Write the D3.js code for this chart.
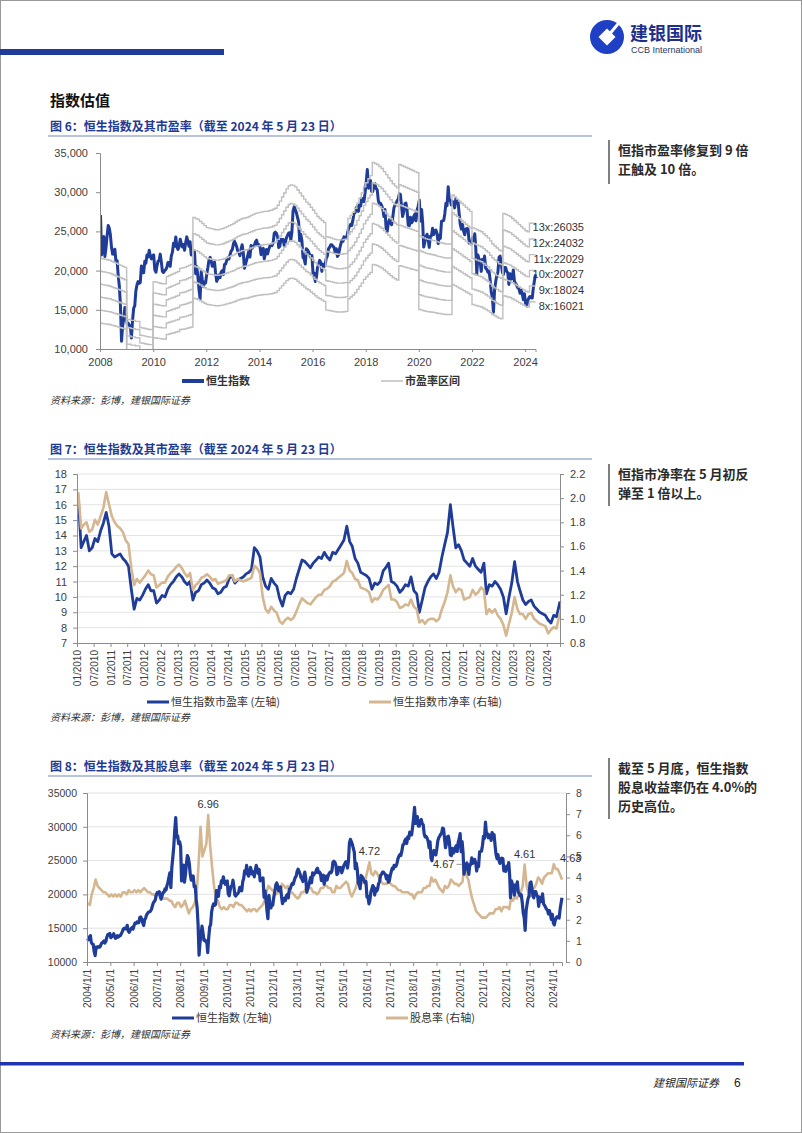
<!DOCTYPE html>
<html>
<head>
<meta charset="utf-8">
<script src="https://d3js.org/d3.v7.min.js"></script>
<style>
  body { margin: 0; background: #fff; }
</style>
</head>
<body>
<svg width="802" height="1133"></svg>
<script>
// ---- data ----
// Hang Seng Index, two readings a month (~8th and ~23rd), from Jan 2004
var hsiStart = [2004, 0];
var hsiValues = [
  13500,13290, 13700,13908, 12900,12682, 12600,11500, 10950,12198, 12100,12286, 12200,12239, 12600,12850, 12900,13120, 12800,13055, 13700,14060, 14100,14230,
  13600,13721, 13900,14195, 13800,13516, 13600,13908, 13700,13867, 13900,14201, 14500,14880, 15000,14903, 15000,15429, 14600,14386, 14700,14937, 15100,14876,
  15400,15753, 15700,15918, 15800,15805, 16600,16661, 16300,15857, 15400,16267, 16500,16971, 17200,17392, 17400,17543, 17800,18324, 18800,18960, 19200,19965,
  20300,20106, 20400,19651, 19300,19800, 20300,20319, 20800,20635, 21300,21773, 22500,23185, 21000,23984, 25500,27142, 29500,31352, 28500,28643, 27500,27813,
  27100,22000, 24000,24332, 21800,22849, 24500,25755, 25400,24533, 22900,22102, 22100,22731, 21100,21261, 19300,18016, 15500,11000, 13000,13888, 15300,14387,
  13200,13278, 13000,12812, 11400,13576, 15200,15521, 17400,18171, 18600,18379, 18500,20573, 20000,19724, 21200,20955, 22000,21753, 22600,21822, 21500,21873,
  22000,20122, 19800,20609, 21200,21239, 22100,21108, 19900,19765, 20000,20129, 20400,21030, 21000,20536, 21900,22358, 23500,23096, 24300,23008, 22700,23035,
  24000,23447, 23000,23338, 22600,23528, 24300,23721, 23100,23684, 22000,22398, 22300,22440, 19600,20535, 19200,17592, 16400,19864, 18800,17989, 18500,18434,
  19600,20390, 21400,21680, 21300,20556, 20600,21094, 19700,18630, 19000,19441, 19100,19796, 20000,19482, 20800,20840, 21300,21642, 21500,22030, 22500,22657,
  23400,23730, 23400,23020, 22500,22300, 21900,22737, 23300,22392, 20300,20803, 21300,21883, 22500,21731, 23200,22860, 23100,23206, 23700,23881, 23200,23306,
  23100,22035, 22500,22837, 21500,22151, 22700,22134, 22700,23082, 23300,23191, 23500,24757, 24900,24742, 24300,22933, 23100,23998, 23800,23987, 23200,23605,
  24200,24507, 24800,24823, 23900,24901, 27600,28133, 27800,27424, 26800,26250, 23800,24636, 23800,21671, 21500,20846, 22800,22640, 22400,21996, 21700,21914,
  19600,19683, 18600,19112, 20300,20777, 21300,21067, 19900,20815, 20500,20794, 21600,21891, 22800,22977, 23300,23297, 23100,22935, 22300,22790, 21800,22001,
  22800,23361, 23900,23741, 24300,24112, 24200,24615, 25300,25661, 25900,25765, 26400,27324, 27400,27970, 28200,27554, 28500,28246, 29200,29177, 28800,29919,
  31300,32887, 30500,30845, 31500,30093, 30100,30808, 31100,30469, 30300,28955, 28500,28583, 28300,27889, 26900,27789, 25400,24980, 26100,26507, 26100,25846,
  26800,27942, 28400,28633, 28900,29051, 29800,29699, 28300,26901, 27500,28543, 28600,27778, 25800,25725, 26800,26092, 26300,26907, 27200,26346, 27700,28190,
  29000,26313, 27800,26130, 23000,23603, 24300,24644, 24000,22961, 24400,24427, 25400,24595, 25100,25177, 24700,23459, 24500,24107, 26300,26341, 26400,27231,
  28600,28284, 30700,28980, 29000,28378, 28800,28725, 28000,29152, 28600,28828, 27300,25961, 25300,25879, 25000,24576, 25300,25377, 25300,23475, 23500,23398,
  24200,23802, 24700,22713, 19500,21997, 21500,21089, 19900,21415, 21100,21860, 20300,20157, 19800,19955, 18800,17223, 16600,14687, 17600,18597, 19400,19781,
  21700,21842, 20800,19786, 19500,20400, 20400,19895, 19700,18234, 19600,18916, 19000,20079, 18600,18382, 18100,17810, 17700,17112, 17600,17043, 16300,17047,
  15800,15485, 16200,16511, 16700,16541, 16500,17763, 18700,19500
];

// trailing EPS behind the P/E bands, monthly from Jan 2008
var epsStart = [2008, 0];
var epsValues = [
  1660,1655,1650,1645,1640,1630,1620,1610,1600,1590,1580,1570,
  1060,1060,1050,1050,1040,1040,980,975,970,965,960,960,
  1430,1425,1420,1415,1410,1410,1480,1490,1500,1510,1520,1530,
  1560,1565,1570,1580,1590,1600,2060,2050,2040,2020,2000,1980,
  1960,1955,1950,1945,1940,1940,1945,1950,1960,1970,1980,1990,
  2000,2015,2030,2040,2050,2055,2060,2070,2080,2090,2100,2105,
  2110,2115,2120,2120,2125,2130,2140,2150,2180,2220,2260,2300,
  2340,2370,2380,2375,2360,2330,2300,2270,2240,2210,2190,2160,
  2130,2100,2070,2050,2030,2010,1870,1865,1860,1850,1845,1840,
  1840,1840,1845,1850,2050,2080,2110,2150,2200,2250,2300,2360,
  2400,2440,2470,2600,2590,2580,2560,2540,2510,2480,2450,2420,
  2390,2370,2350,2580,2570,2560,2550,2540,2530,2520,2510,2500,
  1880,1870,1860,1850,1845,1840,1835,1830,1820,1815,1810,1805,
  1800,1800,1800,2280,2260,2240,2220,2200,2180,2160,2140,2120,
  1960,1950,1940,1930,1920,1900,1880,1860,1830,1800,1780,1760,
  1740,1730,2100,2090,2080,2070,2050,2030,2010,1990,1970,1950,
  1930,1920,2003,2003,2003
];
var bandMultiples = [13, 12, 11, 10, 9, 8];
var bandEndValues = [26035, 24032, 22029, 20027, 18024, 16021];

// P/E and P/B, monthly from Jan 2010
var valStart = [2010, 0];
var peValues = [
  16.5,13.2,13.6,14.0,13.0,13.2,13.8,13.6,14.3,14.8,15.5,14.6,
  12.8,12.6,12.7,12.8,12.5,12.3,12.0,10.5,9.2,9.9,9.8,10.1,
  10.5,10.8,10.4,10.4,9.6,9.8,10.1,10.0,10.5,10.8,11.0,11.3,
  11.5,11.3,11.0,10.8,11.0,9.8,10.3,10.4,10.8,10.9,11.1,10.9,
  10.6,10.5,10.2,10.3,10.6,10.7,11.2,11.4,10.9,11.1,11.2,11.3,
  11.5,11.6,11.8,13.2,13.0,12.6,11.3,10.7,10.5,11.2,10.9,10.7,
  9.9,9.4,10.1,10.3,10.2,10.5,11.2,11.8,12.4,12.3,12.1,11.9,
  12.2,12.4,12.6,12.5,12.9,12.6,12.4,12.9,12.8,13.1,13.4,13.7,
  14.6,13.6,13.3,12.5,12.2,11.6,11.5,11.4,11.2,10.5,10.9,10.8,
  11.0,11.7,11.9,12.2,11.0,10.9,10.7,10.3,10.5,10.8,10.7,11.3,
  10.4,10.2,9.0,9.8,10.6,11.0,11.3,11.5,11.2,11.6,12.6,13.4,
  14.2,16.0,14.6,13.2,13.4,13.0,12.4,12.2,12.0,12.5,12.0,11.8,
  11.6,12.2,10.2,10.8,10.7,11.0,10.8,10.5,10.0,8.9,10.0,10.9,
  12.3,11.0,10.4,9.8,9.5,9.7,9.8,9.4,9.2,9.0,8.9,8.8,
  8.5,8.3,8.8,8.7,9.7
];
var pbValues = [
  2.05,1.75,1.78,1.80,1.72,1.74,1.82,1.78,1.85,1.92,2.05,1.95,
  1.85,1.80,1.77,1.75,1.72,1.65,1.62,1.42,1.28,1.33,1.30,1.33,
  1.36,1.40,1.37,1.36,1.26,1.28,1.30,1.30,1.35,1.38,1.40,1.43,
  1.45,1.42,1.38,1.35,1.38,1.24,1.28,1.30,1.34,1.35,1.37,1.35,
  1.32,1.33,1.29,1.30,1.31,1.32,1.36,1.36,1.31,1.33,1.32,1.31,
  1.32,1.33,1.34,1.44,1.42,1.38,1.18,1.08,1.05,1.10,1.07,1.05,
  0.98,0.96,0.99,1.01,0.99,1.01,1.06,1.12,1.17,1.15,1.13,1.12,
  1.15,1.18,1.20,1.20,1.24,1.25,1.27,1.31,1.32,1.34,1.36,1.38,
  1.48,1.40,1.38,1.33,1.32,1.26,1.25,1.24,1.22,1.14,1.17,1.16,
  1.19,1.24,1.26,1.28,1.16,1.16,1.14,1.09,1.10,1.12,1.11,1.16,
  1.10,1.08,0.97,0.99,0.96,0.99,1.00,1.00,0.98,1.00,1.08,1.14,
  1.22,1.36,1.27,1.22,1.25,1.24,1.16,1.17,1.18,1.24,1.20,1.22,
  1.26,1.24,1.04,1.08,1.05,1.08,1.03,1.00,0.95,0.86,0.96,1.05,
  1.18,1.08,1.04,1.04,1.00,1.04,1.05,1.00,0.98,0.96,0.95,0.94,
  0.88,0.91,0.93,0.92,1.05
];

// dividend yield (%), monthly from Jan 2004
var dyStart = [2004, 0];
var dyValues = [
  2.8,2.7,3.2,3.5,3.9,3.6,3.5,3.4,3.3,3.3,3.2,3.1,
  3.2,3.1,3.2,3.1,3.2,3.1,3.3,3.3,3.2,3.4,3.3,3.3,
  3.4,3.3,3.4,3.3,3.4,3.5,3.4,3.3,3.3,3.2,3.2,3.1,
  3.2,3.2,3.1,3.0,3.0,3.0,2.9,2.9,2.7,2.6,2.8,2.8,
  2.6,2.7,2.9,2.6,2.3,2.5,2.6,2.8,3.2,4.6,6.4,5.0,
  5.3,5.6,6.96,5.5,4.5,3.6,3.0,2.9,2.6,2.5,2.6,2.5,
  2.5,2.7,2.7,2.6,2.8,2.8,2.7,2.7,2.6,2.5,2.4,2.5,
  2.4,2.5,2.5,2.4,2.5,2.6,2.7,2.9,3.3,3.6,3.5,3.4,
  3.3,3.2,3.3,3.3,3.7,3.6,3.5,3.6,3.4,3.3,3.2,3.1,
  3.0,3.1,3.3,3.3,3.4,3.7,3.5,3.5,3.3,3.3,3.2,3.3,
  3.5,3.5,3.6,3.6,3.5,3.5,3.3,3.3,3.6,3.5,3.5,3.6,
  3.7,3.8,3.7,3.3,3.1,3.3,3.5,3.8,3.9,3.7,3.8,3.9,
  4.3,4.72,4.2,4.1,4.3,4.2,4.0,3.8,3.7,3.7,3.7,3.8,
  3.7,3.6,3.6,3.5,3.4,3.4,3.3,3.3,3.3,3.3,3.2,3.2,
  3.0,3.2,3.3,3.3,3.3,3.5,3.5,3.6,3.6,4.0,3.8,3.9,
  3.7,3.5,3.4,3.3,3.6,3.5,3.6,3.9,3.8,3.7,3.7,3.6,
  3.7,3.8,4.67,4.1,3.9,3.4,3.0,2.7,2.4,2.3,2.2,2.1,
  2.1,2.1,2.2,2.3,2.3,2.3,2.5,2.5,2.6,2.4,2.6,2.6,
  2.6,2.5,3.0,2.9,3.1,3.0,3.2,3.3,3.6,4.61,3.6,3.3,
  3.1,3.5,3.5,3.7,4.0,3.9,3.7,4.0,4.1,4.2,4.2,4.2,
  4.63,4.4,4.4,4.2,3.9
];
var dyNotes = [["6.96", 2009, 2], ["4.72", 2016, 1], ["4.67", 2020, 2], ["4.61", 2022, 9], ["4.63", 2024, 0]];

// ---- helpers ----
var blue = "#1f3c98", tan = "#d4b690", bandGrey = "#bfbfbf";
var numFont = "'Liberation Sans', Arial, sans-serif";
var cjk = "'Noto Sans CJK SC', sans-serif";
var svg = d3.select("svg");

function monthly(start, values) {
  return values.map(function (v, i) {
    var day = (i === values.length - 1 && start[0] + Math.floor((start[1] + i) / 12) === 2024) ? 23 : 15;
    return { date: new Date(start[0], start[1] + i, day), v: v };
  });
}
var hsi = hsiValues.map(function (v, i) {
  return { date: new Date(hsiStart[0], hsiStart[1] + Math.floor(i / 2), i % 2 ? 23 : 8), v: v };
});

function styleAxis(g, size) {
  g.select(".domain").attr("stroke", "#8c8c8c");
  g.selectAll(".tick line").attr("stroke", "#8c8c8c");
  g.selectAll(".tick text").attr("fill", "#404040").style("font-family", numFont).style("font-size", size + "px");
}

function legendItem(x, y, color, label, width, weight) {
  svg.append("line").attr("x1", x).attr("x2", x + 22).attr("y1", y).attr("y2", y)
    .attr("stroke", color).attr("stroke-width", width);
  svg.append("text").attr("x", x + 24).attr("y", y + 4).text(label)
    .style("font-family", cjk).style("font-size", "11px").style("font-weight", weight || "normal").attr("fill", "#333");
}

function figTitle(y, label) {
  svg.append("text").attr("x", 50).attr("y", y).text(label)
    .style("font-family", cjk).style("font-weight", "bold").style("font-size", "12px").attr("fill", "#1f3a93");
  svg.append("line").attr("x1", 48).attr("x2", 592).attr("y1", y + 5).attr("y2", y + 5)
    .attr("stroke", "#a3afd0").attr("stroke-width", 1.5);
}

function source(y) {
  svg.append("text").attr("x", 50).attr("y", y).text("资料来源：彭博，建银国际证券")
    .style("font-family", cjk).style("font-style", "italic").style("font-size", "10px").attr("fill", "#333");
}

function comment(top, bottom, lines) {
  svg.append("line").attr("x1", 609).attr("x2", 609).attr("y1", top).attr("y2", bottom)
    .attr("stroke", "#555").attr("stroke-width", 1.5);
  lines.forEach(function (t, i) {
    svg.append("text").attr("x", 618).attr("y", top + 15 + i * 19).text(t)
      .style("font-family", cjk).style("font-weight", "bold").style("font-size", "13px").attr("fill", "#2a2a2a");
  });
}

function clip(id, x, y, w, h) {
  svg.append("clipPath").attr("id", id).append("rect").attr("x", x).attr("y", y).attr("width", w).attr("height", h);
}

// ---- page frame, header, footer ----
svg.append("rect").attr("x", 0.5).attr("y", 0.5).attr("width", 801).attr("height", 1132)
  .attr("fill", "none").attr("stroke", "#999");
svg.append("rect").attr("x", 0).attr("y", 49).attr("width", 224).attr("height", 6).attr("fill", "#1f3c98");

var logo = svg.append("g").attr("transform", "translate(607,37)");
logo.append("circle").attr("r", 17).attr("fill", "#1f3fc4");
logo.append("rect").attr("x", -6).attr("y", -6).attr("width", 12).attr("height", 12)
  .attr("transform", "rotate(45)").attr("fill", "#fff");
logo.append("rect").attr("x", -1.5).attr("y", -19).attr("width", 3).attr("height", 14)
  .attr("transform", "rotate(40)").attr("fill", "#fff");
svg.append("text").attr("x", 630).attr("y", 40).text("建银国际")
  .style("font-family", cjk).style("font-weight", "bold").style("font-size", "18px").attr("fill", "#1c2f8c");
svg.append("text").attr("x", 631).attr("y", 53).text("CCB International")
  .style("font-family", numFont).style("font-size", "9px").attr("fill", "#2b3566");

svg.append("text").attr("x", 50).attr("y", 106).text("指数估值")
  .style("font-family", cjk).style("font-weight", "bold").style("font-size", "15px").attr("fill", "#111");

svg.append("rect").attr("x", 0).attr("y", 1062).attr("width", 744).attr("height", 3.5).attr("fill", "#1f35b0");
svg.append("text").attr("x", 719).attr("y", 1087).attr("text-anchor", "end").text("建银国际证券")
  .style("font-family", cjk).style("font-style", "italic").style("font-size", "11px").attr("fill", "#222");
svg.append("text").attr("x", 734).attr("y", 1087).text("6")
  .style("font-family", numFont).style("font-size", "12px").attr("fill", "#222");

// ---- figure 6: HSI with P/E bands ----
figTitle(131, "图 6：恒生指数及其市盈率（截至 2024 年 5 月 23 日）");
var x1 = d3.scaleTime().domain([new Date(2008, 0, 1), new Date(2024, 4, 23)]).range([100, 535.5]);
var y1 = d3.scaleLinear().domain([10000, 35000]).range([349, 153]);
clip("c1", 100, 150, 440, 199);

var eps = monthly(epsStart, epsValues);
eps.forEach(function (d, i) { d.date = new Date(epsStart[0], epsStart[1] + i, 1); });
eps.push({ date: new Date(2024, 4, 23), v: epsValues[epsValues.length - 1] });

var g1 = svg.append("g").attr("clip-path", "url(#c1)");
g1.append("path")
  .datum(hsi.filter(function (d) { return d.date >= new Date(2008, 0, 1); }))
  .attr("d", d3.line().x(function (d) { return x1(d.date); }).y(function (d) { return y1(d.v); }))
  .attr("fill", "none").attr("stroke", blue).attr("stroke-width", 3).attr("stroke-linejoin", "round");
bandMultiples.forEach(function (k) {
  g1.append("path").datum(eps)
    .attr("d", d3.line().curve(d3.curveStepAfter)
      .x(function (d) { return x1(d.date); }).y(function (d) { return y1(d.v * k); }))
    .attr("fill", "none").attr("stroke", bandGrey).attr("stroke-width", 1.4);
});

svg.append("g").attr("transform", "translate(100,0)")
  .call(d3.axisLeft(y1).tickValues(d3.range(10000, 35001, 5000)).tickFormat(d3.format(",")).tickSize(4).tickPadding(8))
  .call(styleAxis, 11);
svg.append("g").attr("transform", "translate(0,349)")
  .call(d3.axisBottom(x1).ticks(d3.timeYear.every(2)).tickFormat(d3.timeFormat("%Y")).tickSize(3).tickPadding(6))
  .call(styleAxis, 11);

bandMultiples.forEach(function (k, i) {
  svg.append("text").attr("x", 584).attr("y", y1(bandEndValues[i]) + 8).attr("text-anchor", "end")
    .text(k + "x:" + bandEndValues[i])
    .style("font-family", numFont).style("font-size", "11px").attr("fill", "#333");
});
legendItem(182, 381, blue, "恒生指数", 4, "bold");
legendItem(381, 381, bandGrey, "市盈率区间", 1.5, "bold");
source(404);
comment(140, 184, ["恒指市盈率修复到 9 倍", "正触及 10 倍。"]);

// ---- figure 7: P/E and P/B ----
figTitle(454, "图 7：恒生指数及其市盈率（截至 2024 年 5 月 23 日）");
var x2 = d3.scaleTime().domain([new Date(2010, 0, 1), new Date(2024, 4, 23)]).range([77, 560]);
var y2 = d3.scaleLinear().domain([7, 18]).range([643, 474]);
var y2r = d3.scaleLinear().domain([0.8, 2.2]).range([643, 474]);
d3.range(8, 19).forEach(function (v) {
  svg.append("line").attr("x1", 77).attr("x2", 560).attr("y1", y2(v)).attr("y2", y2(v))
    .attr("stroke", "#e3e3e3").attr("stroke-width", 1);
});
var pe = monthly(valStart, peValues), pb = monthly(valStart, pbValues);
svg.append("path").datum(pe)
  .attr("d", d3.line().x(function (d) { return x2(d.date); }).y(function (d) { return y2(d.v); }))
  .attr("fill", "none").attr("stroke", blue).attr("stroke-width", 2.8).attr("stroke-linejoin", "round");
svg.append("path").datum(pb)
  .attr("d", d3.line().x(function (d) { return x2(d.date); }).y(function (d) { return y2r(d.v); }))
  .attr("fill", "none").attr("stroke", tan).attr("stroke-width", 2.6).attr("stroke-linejoin", "round");

svg.append("g").attr("transform", "translate(77,0)")
  .call(d3.axisLeft(y2).tickValues(d3.range(7, 19)).tickSize(4).tickPadding(6))
  .call(styleAxis, 11);
svg.append("g").attr("transform", "translate(560,0)")
  .call(d3.axisRight(y2r).tickValues(d3.range(0.8, 2.21, 0.2)).tickFormat(d3.format(".1f")).tickSize(4).tickPadding(6))
  .call(styleAxis, 11);
var ax2 = svg.append("g").attr("transform", "translate(0,643)")
  .call(d3.axisBottom(x2).ticks(d3.timeMonth.every(6)).tickFormat(d3.timeFormat("%m/%Y")).tickSize(4))
  .call(styleAxis, 10);
ax2.selectAll(".tick text").attr("transform", "rotate(-90)").attr("text-anchor", "end")
  .attr("x", -7).attr("y", 0).attr("dy", "0.35em");
legendItem(147, 702, blue, "恒生指数市盈率 (左轴)", 3);
legendItem(369, 702, tan, "恒生指数市净率 (右轴)", 3);
source(721);
comment(464, 506, ["恒指市净率在 5 月初反", "弹至 1 倍以上。"]);

// ---- figure 8: HSI and dividend yield ----
figTitle(771, "图 8：恒生指数及其股息率（截至 2024 年 5 月 23 日）");
var x3 = d3.scaleTime().domain([new Date(2004, 0, 1), new Date(2024, 4, 23)]).range([87, 562]);
var y3 = d3.scaleLinear().domain([10000, 35000]).range([962, 793]);
var y3r = d3.scaleLinear().domain([0, 8]).range([962, 793]);
d3.range(15000, 35001, 5000).forEach(function (v) {
  svg.append("line").attr("x1", 87).attr("x2", 566).attr("y1", y3(v)).attr("y2", y3(v))
    .attr("stroke", "#e3e3e3").attr("stroke-width", 1);
});
var dy = monthly(dyStart, dyValues);
svg.append("path").datum(dy)
  .attr("d", d3.line().x(function (d) { return x3(d.date); }).y(function (d) { return y3r(d.v); }))
  .attr("fill", "none").attr("stroke", tan).attr("stroke-width", 2.6).attr("stroke-linejoin", "round");
svg.append("path").datum(hsi)
  .attr("d", d3.line().x(function (d) { return x3(d.date); }).y(function (d) { return y3(d.v); }))
  .attr("fill", "none").attr("stroke", blue).attr("stroke-width", 3.2).attr("stroke-linejoin", "round");

svg.append("g").attr("transform", "translate(87,0)")
  .call(d3.axisLeft(y3).tickValues(d3.range(10000, 35001, 5000)).tickFormat(d3.format("d")).tickSize(4).tickPadding(6))
  .call(styleAxis, 10.5);
svg.append("g").attr("transform", "translate(566,0)")
  .call(d3.axisRight(y3r).tickValues(d3.range(0, 9)).tickSize(4).tickPadding(6))
  .call(styleAxis, 10.5);
var ax3 = svg.append("g").attr("transform", "translate(0,962)")
  .call(d3.axisBottom(x3).ticks(d3.timeYear.every(1)).tickFormat(d3.timeFormat("%Y/%-m/%-d")).tickSize(4))
  .call(styleAxis, 10);
ax3.selectAll(".tick text").attr("transform", "rotate(-90)").attr("text-anchor", "end")
  .attr("x", -7).attr("y", 0).attr("dy", "0.35em");

dyNotes.forEach(function (n) {
  var px = x3(new Date(n[1], n[2], 15)), py = y3r(+n[0]);
  var t = svg.append("text").text(n[0])
    .style("font-family", numFont).style("font-size", "11px").attr("fill", "#333");
  if (n[0] === "4.67") {
    t.attr("x", px - 10).attr("y", py + 5).attr("text-anchor", "end");
    svg.append("line").attr("x1", px - 8).attr("x2", px - 2).attr("y1", py + 1).attr("y2", py + 1)
      .attr("stroke", "#999");
  } else if (n[0] === "4.63") {
    t.attr("x", px + 17).attr("y", py - 2).attr("text-anchor", "middle");
  } else {
    t.attr("x", px).attr("y", py - 7).attr("text-anchor", "middle");
  }
});
legendItem(172, 1018, blue, "恒生指数 (左轴)", 3);
legendItem(386, 1018, tan, "股息率 (右轴)", 3);
source(1038);
comment(758, 819, ["截至 5 月底，恒生指数", "股息收益率仍在 4.0%的", "历史高位。"]);
</script>
</body>
</html>
